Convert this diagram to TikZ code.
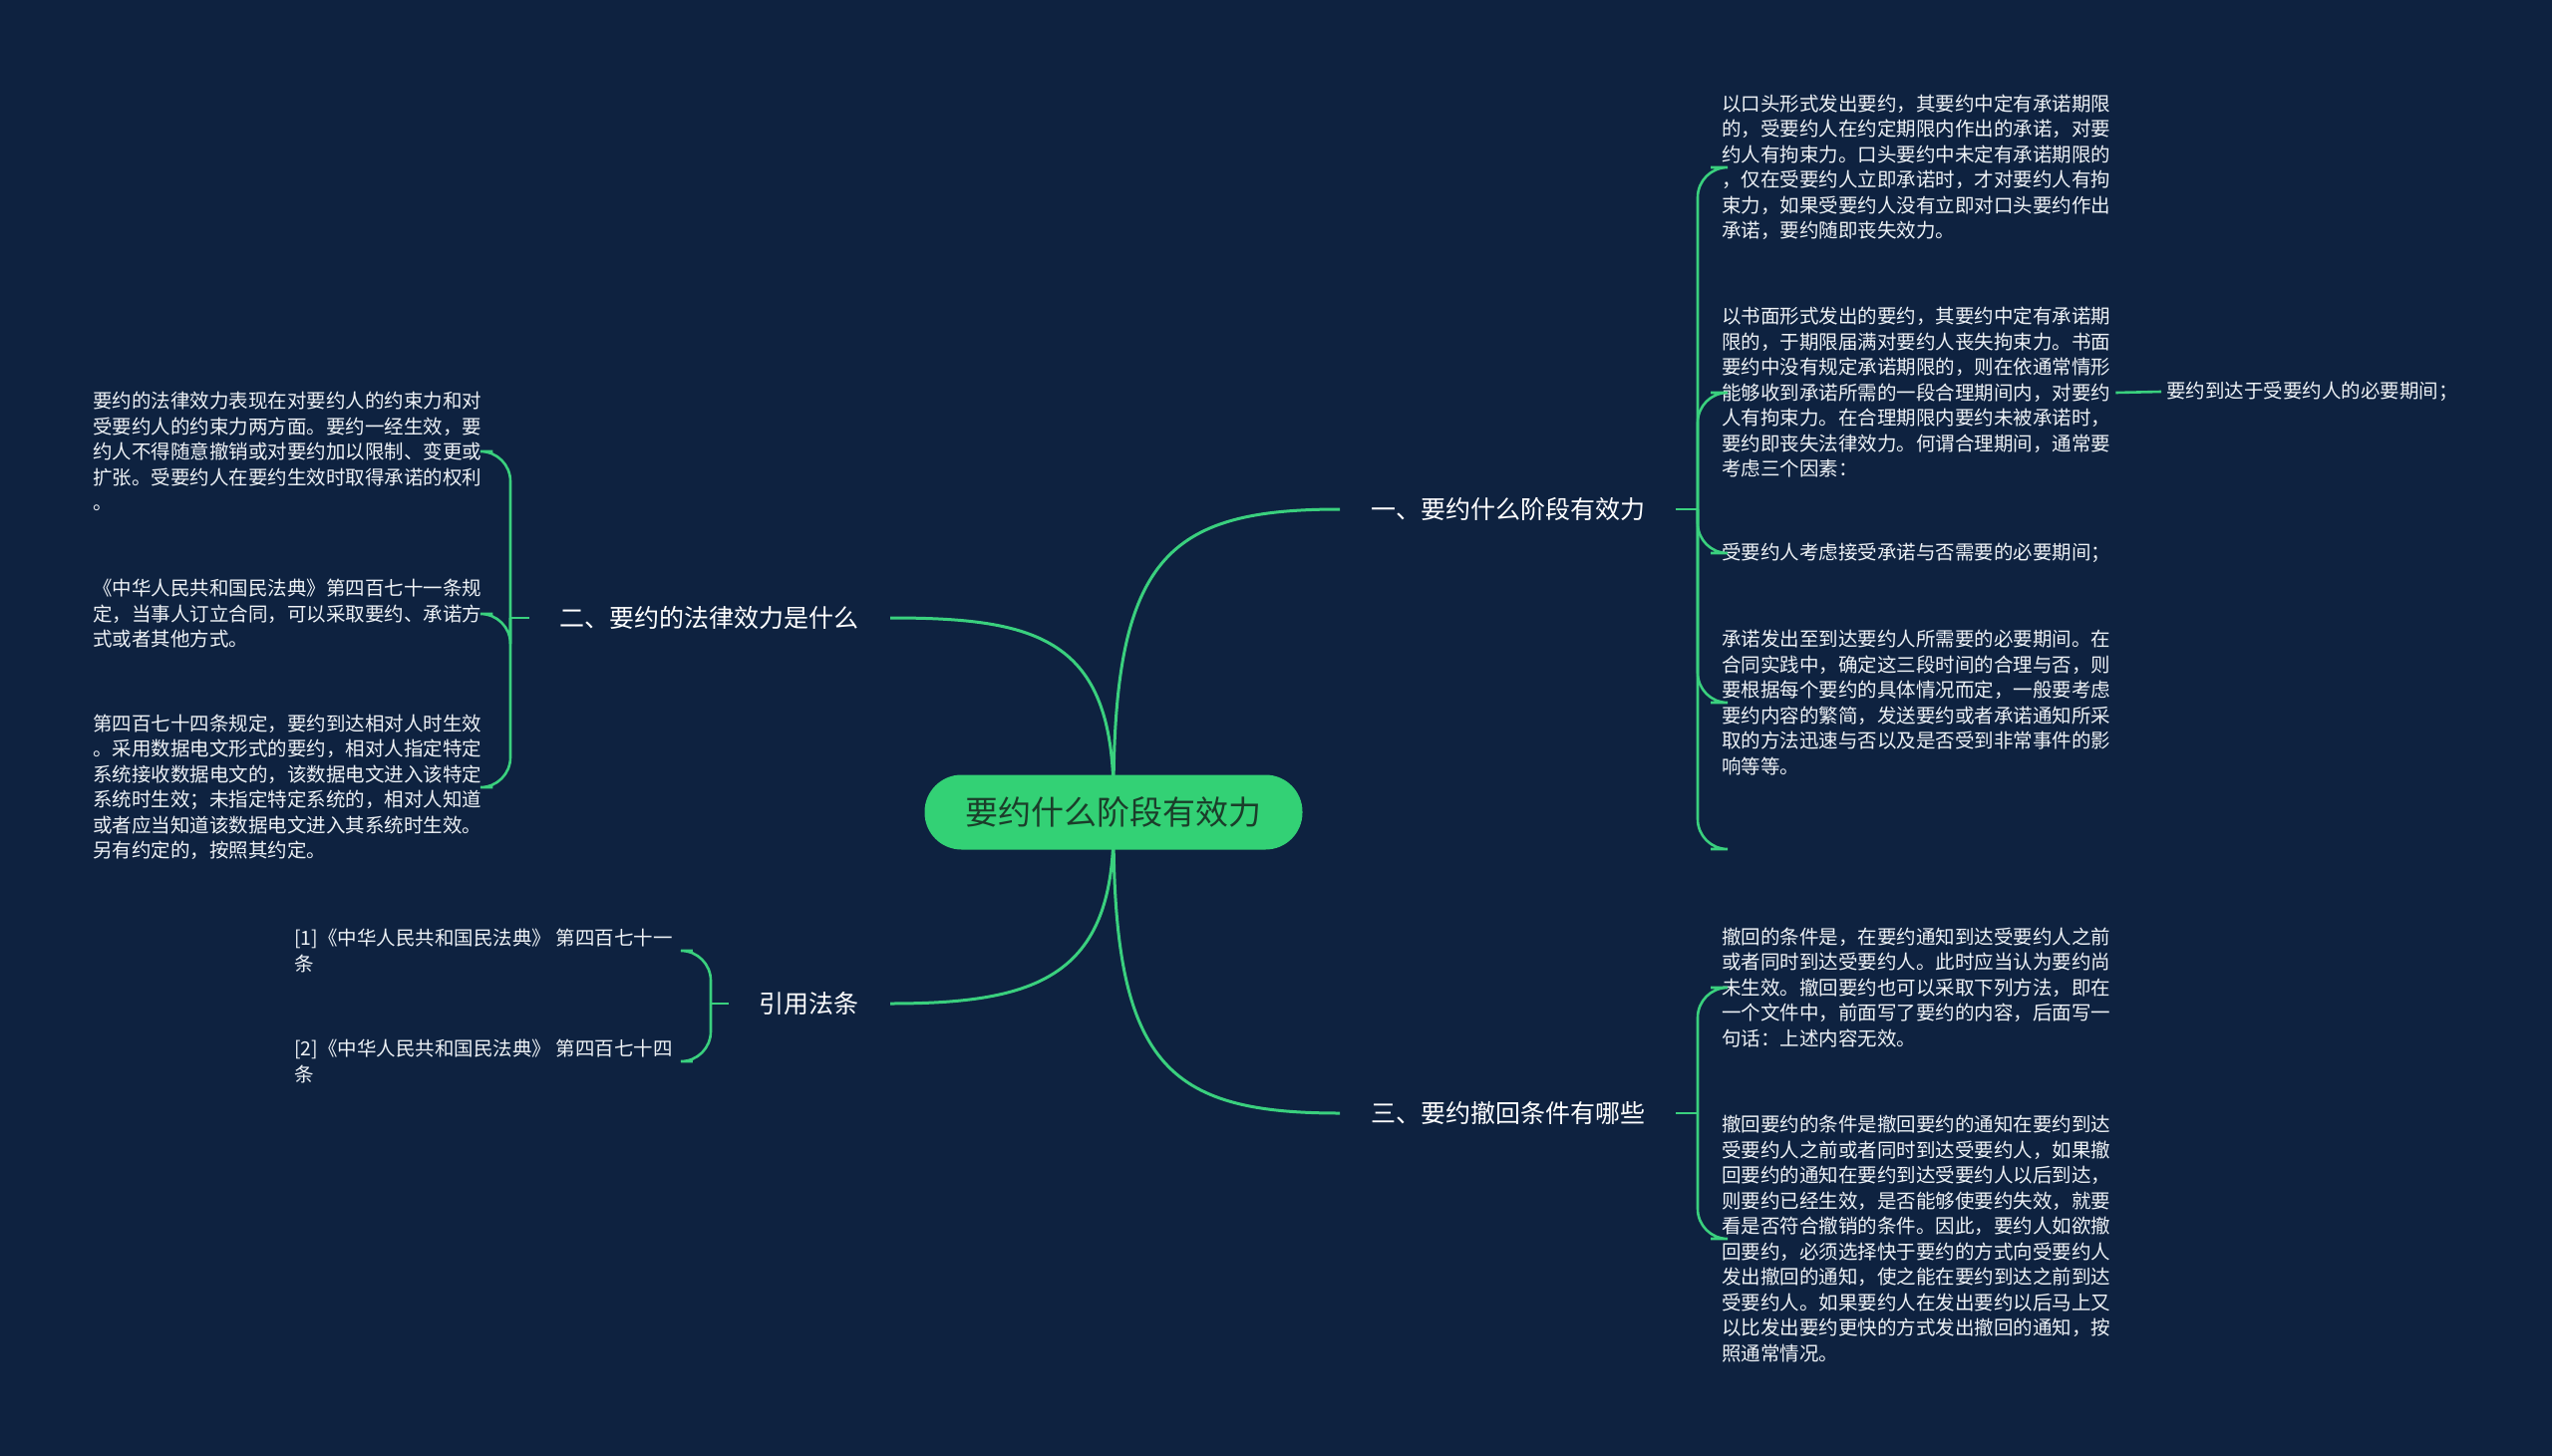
\documentclass[tikz,border=0pt]{standalone}
\usepackage{fontspec}
\newfontfamily\cjk{Noto Sans CJK SC}
\definecolor{bg}{HTML}{0E2240}
\definecolor{ln}{HTML}{3AD07E}
\definecolor{cfill}{HTML}{33D175}
\definecolor{ctext}{HTML}{1B3D2A}
\definecolor{lt}{HTML}{EEF2F6}
\tikzset{
  leaf/.style={anchor=west, align=left, inner xsep=5pt, inner ysep=0pt, text=lt,
    font=\cjk\fontsize{19.5}{25.5}\selectfont},
  branch/.style={inner xsep=31pt, inner ysep=4pt, text=white,
    font=\cjk\fontsize{25}{30}\selectfont},
  root/.style={fill=cfill, text=ctext, rounded corners=37pt, minimum width=379pt,
    minimum height=75pt, font=\cjk\fontsize{33}{38}\selectfont},
  main/.style={draw=ln, line width=3pt},
  stub/.style={draw=ln, line width=2.6pt},
  brk/.style={draw=ln, line width=2.6pt, rounded corners=30pt},
}
\begin{document}
\begin{tikzpicture}[x=1pt,y=-1pt]
\fill[bg] (0,0) rectangle (2560,1461);
\useasboundingbox (0,0) rectangle (2560,1461);

% nodes
\node[branch, anchor=west] (b1) at (1344,511) {一、要约什么阶段有效力};
\node[branch, anchor=west] (b3) at (1344,1117) {三、要约撤回条件有哪些};
\node[branch, anchor=east] (b2) at (893,620) {二、要约的法律效力是什么};
\node[branch, anchor=east] (b4) at (893,1007) {引用法条};

\node[leaf] (r1) at (1722,168) {以口头形式发出要约，其要约中定有承诺期限\\的，受要约人在约定期限内作出的承诺，对要\\约人有拘束力。口头要约中未定有承诺期限的\\，仅在受要约人立即承诺时，才对要约人有拘\\束力，如果受要约人没有立即对口头要约作出\\承诺，要约随即丧失效力。};
\node[leaf] (r2) at (1722,394) {以书面形式发出的要约，其要约中定有承诺期\\限的，于期限届满对要约人丧失拘束力。书面\\要约中没有规定承诺期限的，则在依通常情形\\能够收到承诺所需的一段合理期间内，对要约\\人有拘束力。在合理期限内要约未被承诺时，\\要约即丧失法律效力。何谓合理期间，通常要\\考虑三个因素：};
\node[leaf] (r2c) at (2168,393) {要约到达于受要约人的必要期间；};
\node[leaf] (r3) at (1722,555) {受要约人考虑接受承诺与否需要的必要期间；};
\node[leaf] (r4) at (1722,705) {承诺发出至到达要约人所需要的必要期间。在\\合同实践中，确定这三段时间的合理与否，则\\要根据每个要约的具体情况而定，一般要考虑\\要约内容的繁简，发送要约或者承诺通知所采\\取的方法迅速与否以及是否受到非常事件的影\\响等等。};
\coordinate (r5e) at (1716,852);
\node[leaf] (r5) at (1722,991) {撤回的条件是，在要约通知到达受要约人之前\\或者同时到达受要约人。此时应当认为要约尚\\未生效。撤回要约也可以采取下列方法，即在\\一个文件中，前面写了要约的内容，后面写一\\句话：上述内容无效。};
\node[leaf] (r6) at (1722,1243) {撤回要约的条件是撤回要约的通知在要约到达\\受要约人之前或者同时到达受要约人，如果撤\\回要约的通知在要约到达受要约人以后到达，\\则要约已经生效，是否能够使要约失效，就要\\看是否符合撤销的条件。因此，要约人如欲撤\\回要约，必须选择快于要约的方式向受要约人\\发出撤回的通知，使之能在要约到达之前到达\\受要约人。如果要约人在发出要约以后马上又\\以比发出要约更快的方式发出撤回的通知，按\\照通常情况。};

\node[leaf] (l1) at (88,453) {要约的法律效力表现在对要约人的约束力和对\\受要约人的约束力两方面。要约一经生效，要\\约人不得随意撤销或对要约加以限制、变更或\\扩张。受要约人在要约生效时取得承诺的权利\\。};
\node[leaf] (l2) at (88,616) {《中华人民共和国民法典》第四百七十一条规\\定，当事人订立合同，可以采取要约、承诺方\\式或者其他方式。};
\node[leaf] (l3) at (88,790) {第四百七十四条规定，要约到达相对人时生效\\。采用数据电文形式的要约，相对人指定特定\\系统接收数据电文的，该数据电文进入该特定\\系统时生效；未指定特定系统的，相对人知道\\或者应当知道该数据电文进入其系统时生效。\\另有约定的，按照其约定。};
\node[leaf] (l4a) at (290,954) {[1]《中华人民共和国民法典》 第四百七十一\\条};
\node[leaf] (l4b) at (290,1065) {[2]《中华人民共和国民法典》 第四百七十四\\条};

% main curves
\draw[main] (1117,800) .. controls (1117,560) and (1170,511) .. (b1.west);
\draw[main] (1117,830) .. controls (1117,1068) and (1170,1117) .. (b3.west);
\draw[main] (1117,800) .. controls (1117,640) and (1040,620) .. (b2.east);
\draw[main] (1117,830) .. controls (1117,980) and (1040,1007) .. (b4.east);

\node[root] (c) at (1117,815) {要约什么阶段有效力};

% brackets of b1
\coordinate (j1) at (1703,511);
\draw[stub] (b1.east) -- (j1);
\foreach \n in {r1,r2,r3,r4} {
  \draw[brk] (j1) -- (j1 |- \n.west) -- ([xshift=-6pt]\n.west);
}
\draw[brk] (j1) -- (j1 |- r5e) -- (r5e);
\draw[stub] (r2.east) -- (r2c.west);
% brackets of b3
\coordinate (j3) at (1703,1117);
\draw[stub] (b3.east) -- (j3);
\foreach \n in {r5,r6} {
  \draw[brk] (j3) -- (j3 |- \n.west) -- ([xshift=-6pt]\n.west);
}
% brackets of b2
\coordinate (j2) at (512,620);
\draw[stub] (b2.west) -- (j2);
\foreach \n in {l1,l2,l3} {
  \draw[brk] (j2) -- (j2 |- \n.east) -- ([xshift=6pt]\n.east);
}
% brackets of b4
\coordinate (j4) at (713,1007);
\draw[stub] (b4.west) -- (j4);
\foreach \n in {l4a,l4b} {
  \draw[brk] (j4) -- (j4 |- \n.east) -- ([xshift=15pt]\n.east);
}
\end{tikzpicture}
\end{document}
